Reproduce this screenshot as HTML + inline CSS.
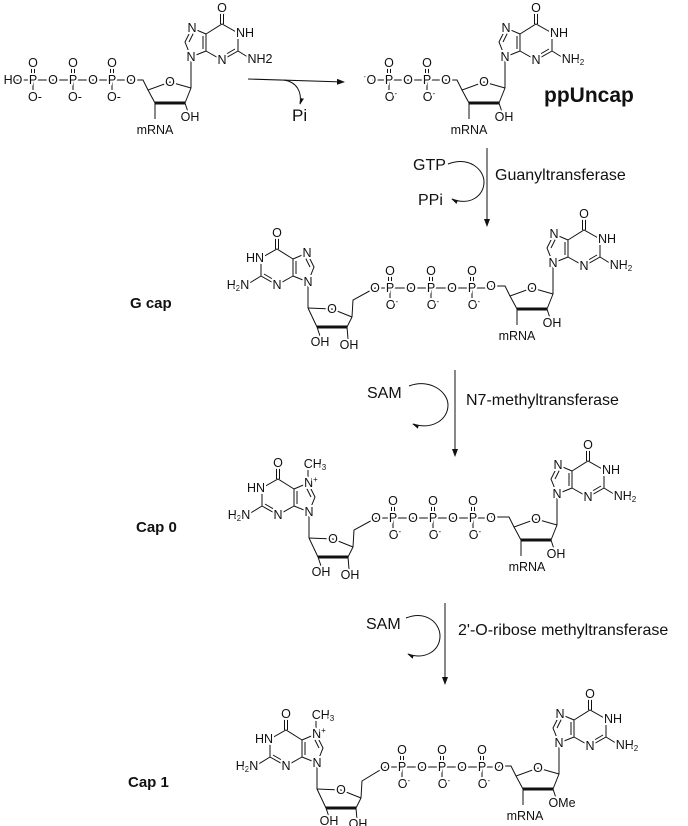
<!DOCTYPE html>
<html><head><meta charset="utf-8"><style>
body{margin:0;background:#fff}
svg{display:block}
.b line,.b polyline,.b path{stroke:#111;stroke-width:1;fill:none}
text{font-family:"Liberation Sans",sans-serif;fill:#111}
.a{font-size:12.5px;text-anchor:middle;dominant-baseline:central;stroke:#fff;stroke-width:4;paint-order:stroke;stroke-linejoin:round}
.s{font-size:8px}
.L{font-size:16px}
.B{font-size:15px;font-weight:bold}
</style></head><body>
<svg width="688" height="826" viewBox="0 0 688 826" xmlns="http://www.w3.org/2000/svg">
<defs>
<marker id="ah" markerWidth="8" markerHeight="6" refX="7" refY="3" orient="auto" markerUnits="userSpaceOnUse"><path d="M0,0 L8,3 L0,6 z" fill="#111"/></marker>
<marker id="hh" markerWidth="7" markerHeight="6" refX="6" refY="3" orient="auto" markerUnits="userSpaceOnUse"><path d="M0,0 L7,3 L0,3 z" fill="#111"/></marker>
</defs>

<g class="b" transform="translate(191,57)">
<polyline points="0,0 15,-6 15,-23 1,-29 -6,-15 0,0"/>
<line x1="-2" y1="-15" x2="3" y2="-25"/><line x1="12" y1="-8" x2="12" y2="-21"/>
<polyline points="15,-23 31,-33 47,-24 47,-6 31,3 15,-6"/>
<line x1="44" y1="-8" x2="32" y2="-1"/>
<line x1="29.5" y1="-33" x2="29.5" y2="-44"/><line x1="32.5" y1="-33" x2="32.5" y2="-44"/>
<line x1="47" y1="-6" x2="60" y2="2"/>
<line x1="0" y1="0" x2="0" y2="31"/>
<polyline points="0,31 -21,25 -43,33 -36,46"/>
<line x1="-36" y1="46" x2="-6" y2="46" style="stroke-width:3"/>
<line x1="-6" y1="46" x2="0" y2="31"/>
<polyline points="-43,33 -48,23 -60,23"/>
<line x1="-6" y1="46" x2="-3" y2="55"/><line x1="-36" y1="46" x2="-36" y2="62"/>
<text class="a" x="1" y="-29">N</text><text class="a" x="0" y="0">N</text><text class="a" x="31" y="3">N</text>
<text class="a" x="54" y="-24">NH</text><text class="a" x="31" y="-49">O</text>
<text class="a" x="69" y="2">NH2</text>
<text class="a" x="-21" y="25">O</text><text class="a" x="-1" y="60">OH</text>
<text class="a" x="-36" y="73">mRNA</text>
</g>
<g class="b">
<line x1="10" y1="80" x2="131" y2="80"/>
<line x1="31.5" y1="68" x2="31.5" y2="76"/><line x1="34.5" y1="68" x2="34.5" y2="76"/><line x1="33" y1="80" x2="33" y2="91"/>
<line x1="71.5" y1="68" x2="71.5" y2="76"/><line x1="74.5" y1="68" x2="74.5" y2="76"/><line x1="73" y1="80" x2="73" y2="91"/>
<line x1="110.5" y1="68" x2="110.5" y2="76"/><line x1="113.5" y1="68" x2="113.5" y2="76"/><line x1="112" y1="80" x2="112" y2="91"/>
<text class="a" x="13" y="80">HO</text>
<text class="a" x="33" y="80">P</text><text class="a" x="53" y="80">O</text><text class="a" x="73" y="80">P</text><text class="a" x="93" y="80">O</text><text class="a" x="112" y="80">P</text><text class="a" x="131" y="80">O</text>
<text class="a" x="33" y="63">O</text><text class="a" x="73" y="63">O</text><text class="a" x="112" y="63">O</text>
<text class="a" x="35" y="97">O-</text><text class="a" x="75" y="97">O-</text><text class="a" x="114" y="97">O-</text>
</g>

<g class="b">
<line x1="248" y1="79" x2="344" y2="82" marker-end="url(#ah)"/>
<path d="M284,80 C297,82 302,92 300,104" marker-end="url(#hh)"/>
</g>
<text class="L" x="292" y="121" style="font-size:17px">Pi</text>

<g class="b" transform="translate(505,57)">
<polyline points="0,0 15,-6 15,-23 1,-29 -6,-15 0,0"/>
<line x1="-2" y1="-15" x2="3" y2="-25"/><line x1="12" y1="-8" x2="12" y2="-21"/>
<polyline points="15,-23 31,-33 47,-24 47,-6 31,3 15,-6"/>
<line x1="44" y1="-8" x2="32" y2="-1"/>
<line x1="29.5" y1="-33" x2="29.5" y2="-44"/><line x1="32.5" y1="-33" x2="32.5" y2="-44"/>
<line x1="47" y1="-6" x2="60" y2="2"/>
<line x1="0" y1="0" x2="0" y2="31"/>
<polyline points="0,31 -21,25 -43,33 -36,46"/>
<line x1="-36" y1="46" x2="-6" y2="46" style="stroke-width:3"/>
<line x1="-6" y1="46" x2="0" y2="31"/>
<polyline points="-43,33 -48,23 -60,23"/>
<line x1="-6" y1="46" x2="-3" y2="55"/><line x1="-36" y1="46" x2="-36" y2="62"/>
<text class="a" x="1" y="-29">N</text><text class="a" x="0" y="0">N</text><text class="a" x="31" y="3">N</text>
<text class="a" x="54" y="-24">NH</text><text class="a" x="31" y="-49">O</text>
<text class="a" x="68" y="2">NH<tspan class="s" dy="3">2</tspan></text>
<text class="a" x="-21" y="25">O</text><text class="a" x="-1" y="60">OH</text>
<text class="a" x="-36" y="73">mRNA</text>
</g>
<g class="b">
<line x1="372" y1="80" x2="446" y2="80"/>
<line x1="387.5" y1="68" x2="387.5" y2="76"/><line x1="390.5" y1="68" x2="390.5" y2="76"/><line x1="389" y1="80" x2="389" y2="91"/>
<line x1="425.5" y1="68" x2="425.5" y2="76"/><line x1="428.5" y1="68" x2="428.5" y2="76"/><line x1="427" y1="80" x2="427" y2="91"/>
<text class="a" x="370" y="80"><tspan class="s" dy="-4">-</tspan><tspan dy="4">O</tspan></text>
<text class="a" x="389" y="80">P</text><text class="a" x="408" y="80">O</text><text class="a" x="427" y="80">P</text><text class="a" x="446" y="80">O</text>
<text class="a" x="389" y="63">O</text><text class="a" x="427" y="63">O</text>
<text class="a" x="391" y="97">O<tspan class="s" dy="-4">-</tspan></text><text class="a" x="429" y="97">O<tspan class="s" dy="-4">-</tspan></text>
</g>
<text class="B" x="544" y="102" style="font-size:21px">ppUncap</text>

<g class="b">
<line x1="487" y1="148" x2="487" y2="226" marker-end="url(#ah)"/>
<path d="M448,164 C470,156 484,170 484,182 C484,196 470,206 452,199" marker-end="url(#hh)"/>
</g>
<text class="L" x="413" y="170">GTP</text>
<text class="L" x="418" y="205">PPi</text>
<text class="L" x="495" y="180">Guanyltransferase</text>

<text class="B" x="130" y="308">G cap</text>
<g class="b" transform="translate(308,282)">
<polyline points="0,0 -15,-6 -15,-23 -1,-29 6,-15 0,0"/>
<line x1="2" y1="-15" x2="-3" y2="-25"/><line x1="-12" y1="-8" x2="-12" y2="-21"/>
<polyline points="-15,-23 -31,-33 -47,-24 -47,-6 -31,3 -15,-6"/>
<line x1="-44" y1="-8" x2="-32" y2="-1"/>
<line x1="-29.5" y1="-33" x2="-29.5" y2="-44"/><line x1="-32.5" y1="-33" x2="-32.5" y2="-44"/>
<line x1="-47" y1="-6" x2="-60" y2="2"/>
<line x1="0" y1="0" x2="0" y2="26"/>
<polyline points="0,26 24,27 44,35"/>
<line x1="44" y1="35" x2="39" y2="45"/>
<line x1="39" y1="45" x2="9" y2="45" style="stroke-width:3"/>
<line x1="9" y1="45" x2="0" y2="26"/>
<polyline points="44,35 45,18 67,6"/>
<line x1="9" y1="45" x2="12" y2="54"/><line x1="39" y1="45" x2="40" y2="57"/>
<text class="a" x="-1" y="-29">N</text><text class="a" x="0" y="0">N</text><text class="a" x="-31" y="3">N</text>
<text class="a" x="-53" y="-24">HN</text><text class="a" x="-31" y="-49">O</text>
<text class="a" x="-70" y="3">H<tspan class="s" dy="3">2</tspan><tspan dy="-3">N</tspan></text>
<text class="a" x="24" y="27">O</text><text class="a" x="12" y="60">OH</text><text class="a" x="41" y="63">OH</text>
</g>
<g class="b">
<line x1="375" y1="288" x2="490" y2="288"/>
<line x1="388.5" y1="276" x2="388.5" y2="284"/><line x1="391.5" y1="276" x2="391.5" y2="284"/><line x1="390" y1="288" x2="390" y2="299"/>
<line x1="429.5" y1="276" x2="429.5" y2="284"/><line x1="432.5" y1="276" x2="432.5" y2="284"/><line x1="431" y1="288" x2="431" y2="299"/>
<line x1="470.5" y1="276" x2="470.5" y2="284"/><line x1="473.5" y1="276" x2="473.5" y2="284"/><line x1="472" y1="288" x2="472" y2="299"/>
<text class="a" x="375" y="288">O</text><text class="a" x="390" y="288">P</text><text class="a" x="411" y="288">O</text><text class="a" x="431" y="288">P</text><text class="a" x="452" y="288">O</text><text class="a" x="472" y="288">P</text>
<text class="a" x="390" y="271">O</text><text class="a" x="431" y="271">O</text><text class="a" x="472" y="271">O</text>
<text class="a" x="392" y="305">O<tspan class="s" dy="-4">-</tspan></text><text class="a" x="433" y="305">O<tspan class="s" dy="-4">-</tspan></text><text class="a" x="474" y="305">O<tspan class="s" dy="-4">-</tspan></text>
</g>
<g class="b" transform="translate(553,263)">
<polyline points="0,0 15,-6 15,-23 1,-29 -6,-15 0,0"/>
<line x1="-2" y1="-15" x2="3" y2="-25"/><line x1="12" y1="-8" x2="12" y2="-21"/>
<polyline points="15,-23 31,-33 47,-24 47,-6 31,3 15,-6"/>
<line x1="44" y1="-8" x2="32" y2="-1"/>
<line x1="29.5" y1="-33" x2="29.5" y2="-44"/><line x1="32.5" y1="-33" x2="32.5" y2="-44"/>
<line x1="47" y1="-6" x2="60" y2="2"/>
<line x1="0" y1="0" x2="0" y2="31"/>
<polyline points="0,31 -21,25 -43,33 -36,46"/>
<line x1="-36" y1="46" x2="-6" y2="46" style="stroke-width:3"/>
<line x1="-6" y1="46" x2="0" y2="31"/>
<polyline points="-43,33 -48,23 -62,23"/>
<line x1="-6" y1="46" x2="-3" y2="55"/><line x1="-36" y1="46" x2="-36" y2="62"/>
<text class="a" x="1" y="-29">N</text><text class="a" x="0" y="0">N</text><text class="a" x="31" y="3">N</text>
<text class="a" x="54" y="-24">NH</text><text class="a" x="31" y="-49">O</text>
<text class="a" x="68" y="2">NH<tspan class="s" dy="3">2</tspan></text>
<text class="a" x="-21" y="25">O</text><text class="a" x="-62" y="23">O</text><text class="a" x="-1" y="60">OH</text>
<text class="a" x="-36" y="73">mRNA</text>
</g>

<g class="b">
<line x1="455" y1="370" x2="455" y2="456" marker-end="url(#ah)"/>
<path d="M409,386 C430,378 448,392 448,405 C448,420 432,430 413,424" marker-end="url(#hh)"/>
</g>
<text class="L" x="367" y="398">SAM</text>
<text class="L" x="466" y="405">N7-methyltransferase</text>

<text class="B" x="136" y="532">Cap 0</text>
<g class="b" transform="translate(309,512)">
<polyline points="0,0 -15,-6 -15,-23 -1,-29 6,-15 0,0"/>
<line x1="2" y1="-15" x2="-3" y2="-25"/><line x1="-12" y1="-8" x2="-12" y2="-21"/>
<polyline points="-15,-23 -31,-33 -47,-24 -47,-6 -31,3 -15,-6"/>
<line x1="-44" y1="-8" x2="-32" y2="-1"/>
<line x1="-29.5" y1="-33" x2="-29.5" y2="-44"/><line x1="-32.5" y1="-33" x2="-32.5" y2="-44"/>
<line x1="-47" y1="-6" x2="-60" y2="2"/>
<line x1="-1" y1="-29" x2="-1" y2="-44"/>
<line x1="0" y1="0" x2="0" y2="26"/>
<polyline points="0,26 24,27 44,35"/>
<line x1="44" y1="35" x2="39" y2="45"/>
<line x1="39" y1="45" x2="9" y2="45" style="stroke-width:3"/>
<line x1="9" y1="45" x2="0" y2="26"/>
<polyline points="44,35 45,18 67,6"/>
<line x1="9" y1="45" x2="12" y2="54"/><line x1="39" y1="45" x2="40" y2="57"/>
<text class="a" x="2" y="-29">N<tspan class="s" dy="-4">+</tspan></text><text class="a" x="6" y="-48">CH<tspan class="s" dy="3">3</tspan></text>
<text class="a" x="0" y="0">N</text><text class="a" x="-31" y="3">N</text>
<text class="a" x="-53" y="-24">HN</text><text class="a" x="-31" y="-49">O</text>
<text class="a" x="-70" y="3">H<tspan class="s" dy="3">2</tspan><tspan dy="-3">N</tspan></text>
<text class="a" x="24" y="27">O</text><text class="a" x="12" y="60">OH</text><text class="a" x="41" y="63">OH</text>
</g>
<g class="b">
<line x1="376" y1="518" x2="490" y2="518"/>
<line x1="391.5" y1="506" x2="391.5" y2="514"/><line x1="394.5" y1="506" x2="394.5" y2="514"/><line x1="393" y1="518" x2="393" y2="529"/>
<line x1="431.5" y1="506" x2="431.5" y2="514"/><line x1="434.5" y1="506" x2="434.5" y2="514"/><line x1="433" y1="518" x2="433" y2="529"/>
<line x1="471.5" y1="506" x2="471.5" y2="514"/><line x1="474.5" y1="506" x2="474.5" y2="514"/><line x1="473" y1="518" x2="473" y2="529"/>
<text class="a" x="376" y="518">O</text><text class="a" x="393" y="518">P</text><text class="a" x="413" y="518">O</text><text class="a" x="433" y="518">P</text><text class="a" x="453" y="518">O</text><text class="a" x="473" y="518">P</text>
<text class="a" x="393" y="501">O</text><text class="a" x="433" y="501">O</text><text class="a" x="473" y="501">O</text>
<text class="a" x="395" y="535">O<tspan class="s" dy="-4">-</tspan></text><text class="a" x="435" y="535">O<tspan class="s" dy="-4">-</tspan></text><text class="a" x="475" y="535">O<tspan class="s" dy="-4">-</tspan></text>
</g>
<g class="b" transform="translate(557,494)">
<polyline points="0,0 15,-6 15,-23 1,-29 -6,-15 0,0"/>
<line x1="-2" y1="-15" x2="3" y2="-25"/><line x1="12" y1="-8" x2="12" y2="-21"/>
<polyline points="15,-23 31,-33 47,-24 47,-6 31,3 15,-6"/>
<line x1="44" y1="-8" x2="32" y2="-1"/>
<line x1="29.5" y1="-33" x2="29.5" y2="-44"/><line x1="32.5" y1="-33" x2="32.5" y2="-44"/>
<line x1="47" y1="-6" x2="60" y2="2"/>
<line x1="0" y1="0" x2="0" y2="31"/>
<polyline points="0,31 -21,25 -43,33 -36,46"/>
<line x1="-36" y1="46" x2="-6" y2="46" style="stroke-width:3"/>
<line x1="-6" y1="46" x2="0" y2="31"/>
<polyline points="-43,33 -48,23 -66,23"/>
<line x1="-6" y1="46" x2="-3" y2="55"/><line x1="-36" y1="46" x2="-36" y2="62"/>
<text class="a" x="1" y="-29">N</text><text class="a" x="0" y="0">N</text><text class="a" x="31" y="3">N</text>
<text class="a" x="54" y="-24">NH</text><text class="a" x="31" y="-49">O</text>
<text class="a" x="68" y="2">NH<tspan class="s" dy="3">2</tspan></text>
<text class="a" x="-21" y="25">O</text><text class="a" x="-66" y="24">O</text><text class="a" x="-1" y="60">OH</text>
<text class="a" x="-30" y="73">mRNA</text>
</g>

<g class="b">
<line x1="445" y1="603" x2="445" y2="684" marker-end="url(#ah)"/>
<path d="M406,618 C426,610 440,623 440,636 C440,651 425,660 408,654" marker-end="url(#hh)"/>
</g>
<text class="L" x="366" y="629">SAM</text>
<text class="L" x="458" y="635">2'-O-ribose methyltransferase</text>

<text class="B" x="128" y="787">Cap 1</text>
<g class="b" transform="translate(317,763)">
<polyline points="0,0 -15,-6 -15,-23 -1,-29 6,-15 0,0"/>
<line x1="2" y1="-15" x2="-3" y2="-25"/><line x1="-12" y1="-8" x2="-12" y2="-21"/>
<polyline points="-15,-23 -31,-33 -47,-24 -47,-6 -31,3 -15,-6"/>
<line x1="-44" y1="-8" x2="-32" y2="-1"/>
<line x1="-29.5" y1="-33" x2="-29.5" y2="-44"/><line x1="-32.5" y1="-33" x2="-32.5" y2="-44"/>
<line x1="-47" y1="-6" x2="-60" y2="2"/>
<line x1="-1" y1="-29" x2="-1" y2="-44"/>
<line x1="0" y1="0" x2="0" y2="26"/>
<polyline points="0,26 24,27 44,35"/>
<line x1="44" y1="35" x2="39" y2="45"/>
<line x1="39" y1="45" x2="9" y2="45" style="stroke-width:3"/>
<line x1="9" y1="45" x2="0" y2="26"/>
<polyline points="44,35 45,18 68,4"/>
<line x1="9" y1="45" x2="12" y2="54"/><line x1="39" y1="45" x2="40" y2="57"/>
<text class="a" x="2" y="-29">N<tspan class="s" dy="-4">+</tspan></text><text class="a" x="6" y="-48">CH<tspan class="s" dy="3">3</tspan></text>
<text class="a" x="0" y="0">N</text><text class="a" x="-31" y="3">N</text>
<text class="a" x="-53" y="-24">HN</text><text class="a" x="-31" y="-49">O</text>
<text class="a" x="-70" y="3">H<tspan class="s" dy="3">2</tspan><tspan dy="-3">N</tspan></text>
<text class="a" x="24" y="27">O</text><text class="a" x="12" y="58">OH</text><text class="a" x="41" y="61">OH</text>
</g>
<g class="b">
<line x1="385" y1="767" x2="499" y2="767"/>
<line x1="400.5" y1="755" x2="400.5" y2="763"/><line x1="403.5" y1="755" x2="403.5" y2="763"/><line x1="402" y1="767" x2="402" y2="778"/>
<line x1="440.5" y1="755" x2="440.5" y2="763"/><line x1="443.5" y1="755" x2="443.5" y2="763"/><line x1="442" y1="767" x2="442" y2="778"/>
<line x1="480.5" y1="755" x2="480.5" y2="763"/><line x1="483.5" y1="755" x2="483.5" y2="763"/><line x1="482" y1="767" x2="482" y2="778"/>
<text class="a" x="385" y="767">O</text><text class="a" x="402" y="767">P</text><text class="a" x="422" y="767">O</text><text class="a" x="442" y="767">P</text><text class="a" x="462" y="767">O</text><text class="a" x="482" y="767">P</text>
<text class="a" x="402" y="750">O</text><text class="a" x="442" y="750">O</text><text class="a" x="482" y="750">O</text>
<text class="a" x="404" y="784">O<tspan class="s" dy="-4">-</tspan></text><text class="a" x="444" y="784">O<tspan class="s" dy="-4">-</tspan></text><text class="a" x="484" y="784">O<tspan class="s" dy="-4">-</tspan></text>
</g>
<g class="b" transform="translate(559,743)">
<polyline points="0,0 15,-6 15,-23 1,-29 -6,-15 0,0"/>
<line x1="-2" y1="-15" x2="3" y2="-25"/><line x1="12" y1="-8" x2="12" y2="-21"/>
<polyline points="15,-23 31,-33 47,-24 47,-6 31,3 15,-6"/>
<line x1="44" y1="-8" x2="32" y2="-1"/>
<line x1="29.5" y1="-33" x2="29.5" y2="-44"/><line x1="32.5" y1="-33" x2="32.5" y2="-44"/>
<line x1="47" y1="-6" x2="60" y2="2"/>
<line x1="0" y1="0" x2="0" y2="31"/>
<polyline points="0,31 -21,25 -43,33 -36,46"/>
<line x1="-36" y1="46" x2="-6" y2="46" style="stroke-width:3"/>
<line x1="-6" y1="46" x2="0" y2="31"/>
<polyline points="-43,33 -48,23 -60,23"/>
<line x1="-6" y1="46" x2="-3" y2="55"/><line x1="-36" y1="46" x2="-36" y2="62"/>
<text class="a" x="1" y="-29">N</text><text class="a" x="0" y="0">N</text><text class="a" x="31" y="3">N</text>
<text class="a" x="54" y="-24">NH</text><text class="a" x="31" y="-49">O</text>
<text class="a" x="68" y="2">NH<tspan class="s" dy="3">2</tspan></text>
<text class="a" x="-21" y="25">O</text><text class="a" x="-60" y="24">O</text><text class="a" x="3" y="60">OMe</text>
<text class="a" x="-34" y="73">mRNA</text>
</g>
</svg>
</body></html>
